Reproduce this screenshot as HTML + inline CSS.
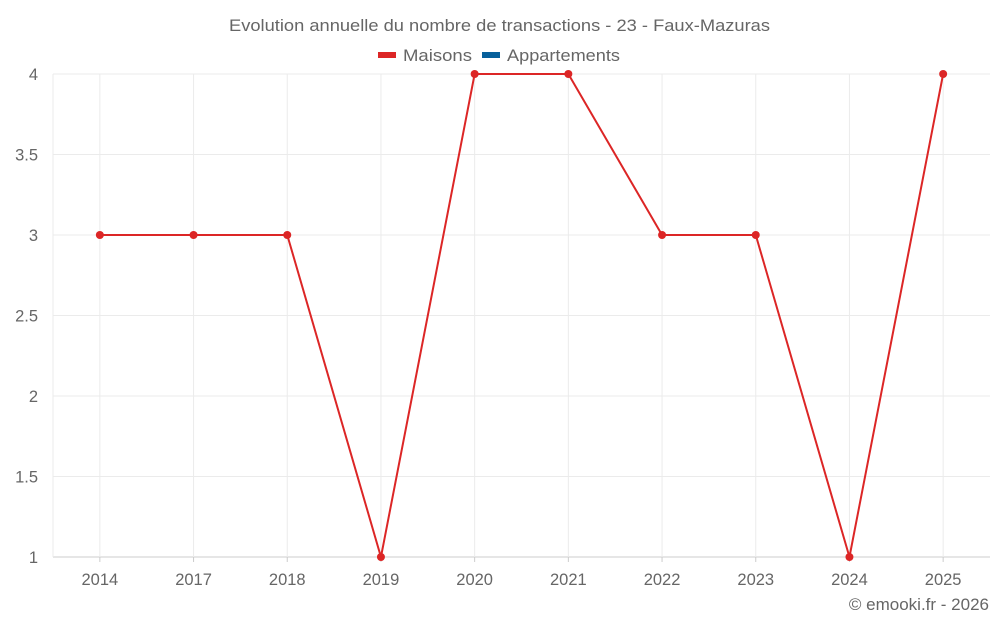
<!DOCTYPE html>
<html><head><meta charset="utf-8"><style>
body{margin:0;background:#fff;font-family:"Liberation Sans",sans-serif;}
svg text{font-family:"Liberation Sans",sans-serif;fill:#666;}
</style></head><body>
<svg id="chart" width="1000" height="625">
<text x="229" y="31" font-size="17" textLength="541" lengthAdjust="spacingAndGlyphs">Evolution annuelle du nombre de transactions - 23 - Faux-Mazuras</text>
<g>
<g><rect x="378" y="52" width="18" height="6" fill="#dc2626"/><text x="403" y="61" font-size="17" textLength="69" lengthAdjust="spacingAndGlyphs">Maisons</text></g>
<g><rect x="482" y="52" width="18" height="6" fill="#07609b"/><text x="507" y="61" font-size="17" textLength="113" lengthAdjust="spacingAndGlyphs">Appartements</text></g>
</g>
<g id="grid"></g><g id="axes"></g><g id="series"></g>
<text x="989" y="610" text-anchor="end" font-size="17">© emooki.fr - 2026</text>
</svg>
<script>
const categories=["2014","2017","2018","2019","2020","2021","2022","2023","2024","2025"];
const maisons=[3,3,3,1,4,4,3,3,1,4];
const yTicks=[1,1.5,2,2.5,3,3.5,4];
const yTickLabels=["1","1.5","2","2.5","3","3.5","4"];
const NS="http://www.w3.org/2000/svg";
const L=53,R=990,T=74,B=557,yMin=1,yMax=4;
const bw=(R-L)/categories.length;
const x=i=>L+bw*(i+0.5);
const y=v=>B-(v-yMin)/(yMax-yMin)*(B-T);
function mk(tag,at,parent){const e=document.createElementNS(NS,tag);for(const k in at)e.setAttribute(k,at[k]);document.getElementById(parent).appendChild(e);return e;}
yTicks.forEach((t,i)=>{
 const g=mk("line",{x1:L,x2:R,y1:y(t),y2:y(t),stroke:t===yMin?"#ccc":"#ebebeb","stroke-width":1},"grid");
 
 
 const tx=mk("text",{x:38,y:y(t)+6,"text-anchor":"end","font-size":16.5},"axes");tx.textContent=yTickLabels[i];
 
 
});
const vl=mk("line",{x1:L,x2:L,y1:T,y2:B,stroke:"#ebebeb"},"grid");


categories.forEach((c,i)=>{
 const g=mk("line",{x1:x(i),x2:x(i),y1:T,y2:B,stroke:"#ebebeb"},"grid");
 
 
 const tk=mk("line",{x1:x(i),x2:x(i),y1:B,y2:B+5,stroke:"#ccc"},"axes");
 
 
 const tx=mk("text",{x:x(i),y:585,"text-anchor":"middle","font-size":16.5},"axes");tx.textContent=c;
 
 
});
const pl=mk("polyline",{points:maisons.map((v,i)=>x(i)+","+y(v)).join(" "),fill:"none",stroke:"#dc2626","stroke-width":2},"series");


maisons.forEach((v,i)=>{
 const c=mk("circle",{cx:x(i),cy:y(v),r:4,fill:"#dc2626"},"series");
 
 
});
</script>
</body></html>
